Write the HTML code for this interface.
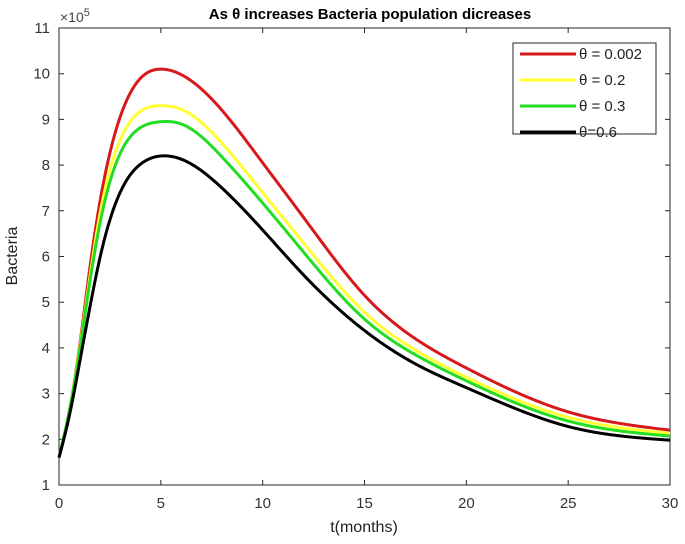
<!DOCTYPE html>
<html><head><meta charset="utf-8"><style>
body{margin:0;background:#fff;}
svg{display:block;font-family:"Liberation Sans",sans-serif;}
</style></head><body>
<svg id="chart" width="685" height="544"></svg>
<script>
const times=[0,0.5,1,1.5,2,3,4,5,6,8,10,12,15,17.5,20,25,30];
const seriesRed=[1.6,2.6,4.0,5.7,7.17,9.05,9.9,10.1,9.98,9.2,8.05,6.86,5.15,4.2,3.56,2.6,2.2];
const seriesYellow=[1.6,2.6,3.95,5.5,6.9,8.55,9.18,9.3,9.22,8.48,7.4,6.3,4.78,3.95,3.36,2.48,2.13];
const seriesGreen=[1.6,2.6,3.9,5.4,6.7,8.25,8.82,8.95,8.9,8.18,7.17,6.1,4.63,3.85,3.28,2.4,2.07];
const seriesBlack=[1.6,2.5,3.65,4.85,5.95,7.4,8.02,8.2,8.13,7.5,6.58,5.6,4.38,3.65,3.13,2.28,1.98];
const xTicks=[0,5,10,15,20,25,30];
const yTicks=[1,2,3,4,5,6,7,8,9,10,11];
const legendLabels=["\u03b8 = 0.002","\u03b8 = 0.2","\u03b8 = 0.3","\u03b8=0.6"];
const colors=["#d7191c","#ffff33","#22dd22","#000000"];

const NS="http://www.w3.org/2000/svg";
const svg=document.getElementById('chart');
const L=59,R=670,T=28,B=485;
const xs=t=>L+(t-0)/30*(R-L);
const ys=v=>B-(v-1)/10*(B-T);
function mk(tag,attrs,parent){const e=document.createElementNS(NS,tag);for(const k in attrs)e.setAttribute(k,attrs[k]);(parent||svg).appendChild(e);return e;}

const box=mk('rect',{x:L,y:T,width:R-L,height:B-T,fill:'#fff',stroke:'#262626','stroke-width':1});



xTicks.forEach(t=>{
  const x=xs(t);
  const tk=mk('path',{d:`M${x},${B}v-5M${x},${T}v5`,stroke:'#262626'});
  
  
  const lb=mk('text',{x:x,y:B+23,'text-anchor':'middle','font-size':15,fill:'#333'});
  lb.textContent=t;
  
  
});
yTicks.forEach(v=>{
  const y=ys(v);
  const tk=mk('path',{d:`M${L},${y}h5M${R},${y}h-5`,stroke:'#262626'});
  
  
  const lb=mk('text',{x:L-9,y:y+5,'text-anchor':'end','font-size':15,fill:'#333'});
  lb.textContent=v;
  
  
});

// natural cubic spline in data space
function spline(xv,yv){
  const n=xv.length,h=[],a=[],b=[],c=[],r=[],M=new Array(n).fill(0);
  for(let i=0;i<n-1;i++)h.push(xv[i+1]-xv[i]);
  for(let i=1;i<n-1;i++){a[i]=h[i-1];b[i]=2*(h[i-1]+h[i]);c[i]=h[i];r[i]=6*((yv[i+1]-yv[i])/h[i]-(yv[i]-yv[i-1])/h[i-1]);}
  for(let i=2;i<n-1;i++){const w=a[i]/b[i-1];b[i]-=w*c[i-1];r[i]-=w*r[i-1];}
  for(let i=n-2;i>=1;i--){M[i]=(r[i]-(i<n-2?c[i]*M[i+1]:0))/b[i];}
  return t=>{
    let i=0;while(i<n-2&&t>xv[i+1])i++;
    const hi=h[i],A=(xv[i+1]-t)/hi,Bc=(t-xv[i])/hi;
    return A*yv[i]+Bc*yv[i+1]+((A*A*A-A)*M[i]+(Bc*Bc*Bc-Bc)*M[i+1])*hi*hi/6;
  };
}
function pathFor(vals){
  const f=spline(times,vals);
  let d='';
  for(let k=0;k<=600;k++){const t=times[0]+(times[times.length-1]-times[0])*k/600;d+=(k?'L':'M')+xs(t).toFixed(2)+','+ys(f(t)).toFixed(2);}
  return d;
}
const allSeries=[seriesRed,seriesYellow,seriesGreen,seriesBlack];
const names=['line-theta-0002','line-theta-02','line-theta-03','line-theta-06'];
allSeries.forEach((s,i)=>{
  const ln=mk('path',{d:pathFor(s),fill:'none',stroke:colors[i],'stroke-width':3,'stroke-linejoin':'round'});
  
  
});

const lg=mk('g',{});


mk('rect',{x:513,y:43,width:143,height:91,fill:'#fff',stroke:'#262626'},lg);
legendLabels.forEach((t,i)=>{
  const y=54+i*26;
  const sw=mk('line',{x1:520,x2:576,y1:y,y2:y,stroke:colors[i],'stroke-width':3},lg);
  
  
  const tx=mk('text',{x:579,y:y+5,'font-size':15,fill:'#222'},lg);
  tx.textContent=t;
  
  
});

const title=mk('text',{x:370,y:19,'text-anchor':'middle','font-size':15,'font-weight':'bold',fill:'#000'});
title.textContent="As \u03b8 increases Bacteria population dicreases";



const exp=mk('text',{x:60,y:22,'font-size':14,fill:'#444'});
exp.innerHTML='\u00d710<tspan dy="-6" font-size="11">5</tspan>';



const xt=mk('text',{x:364,y:532,'text-anchor':'middle','font-size':16,fill:'#222'});
xt.textContent='t(months)';



const yt=mk('text',{x:17,y:256,'text-anchor':'middle','font-size':16,fill:'#222',transform:'rotate(-90 17 256)'});
yt.textContent='Bacteria';


</script>
</body></html>
